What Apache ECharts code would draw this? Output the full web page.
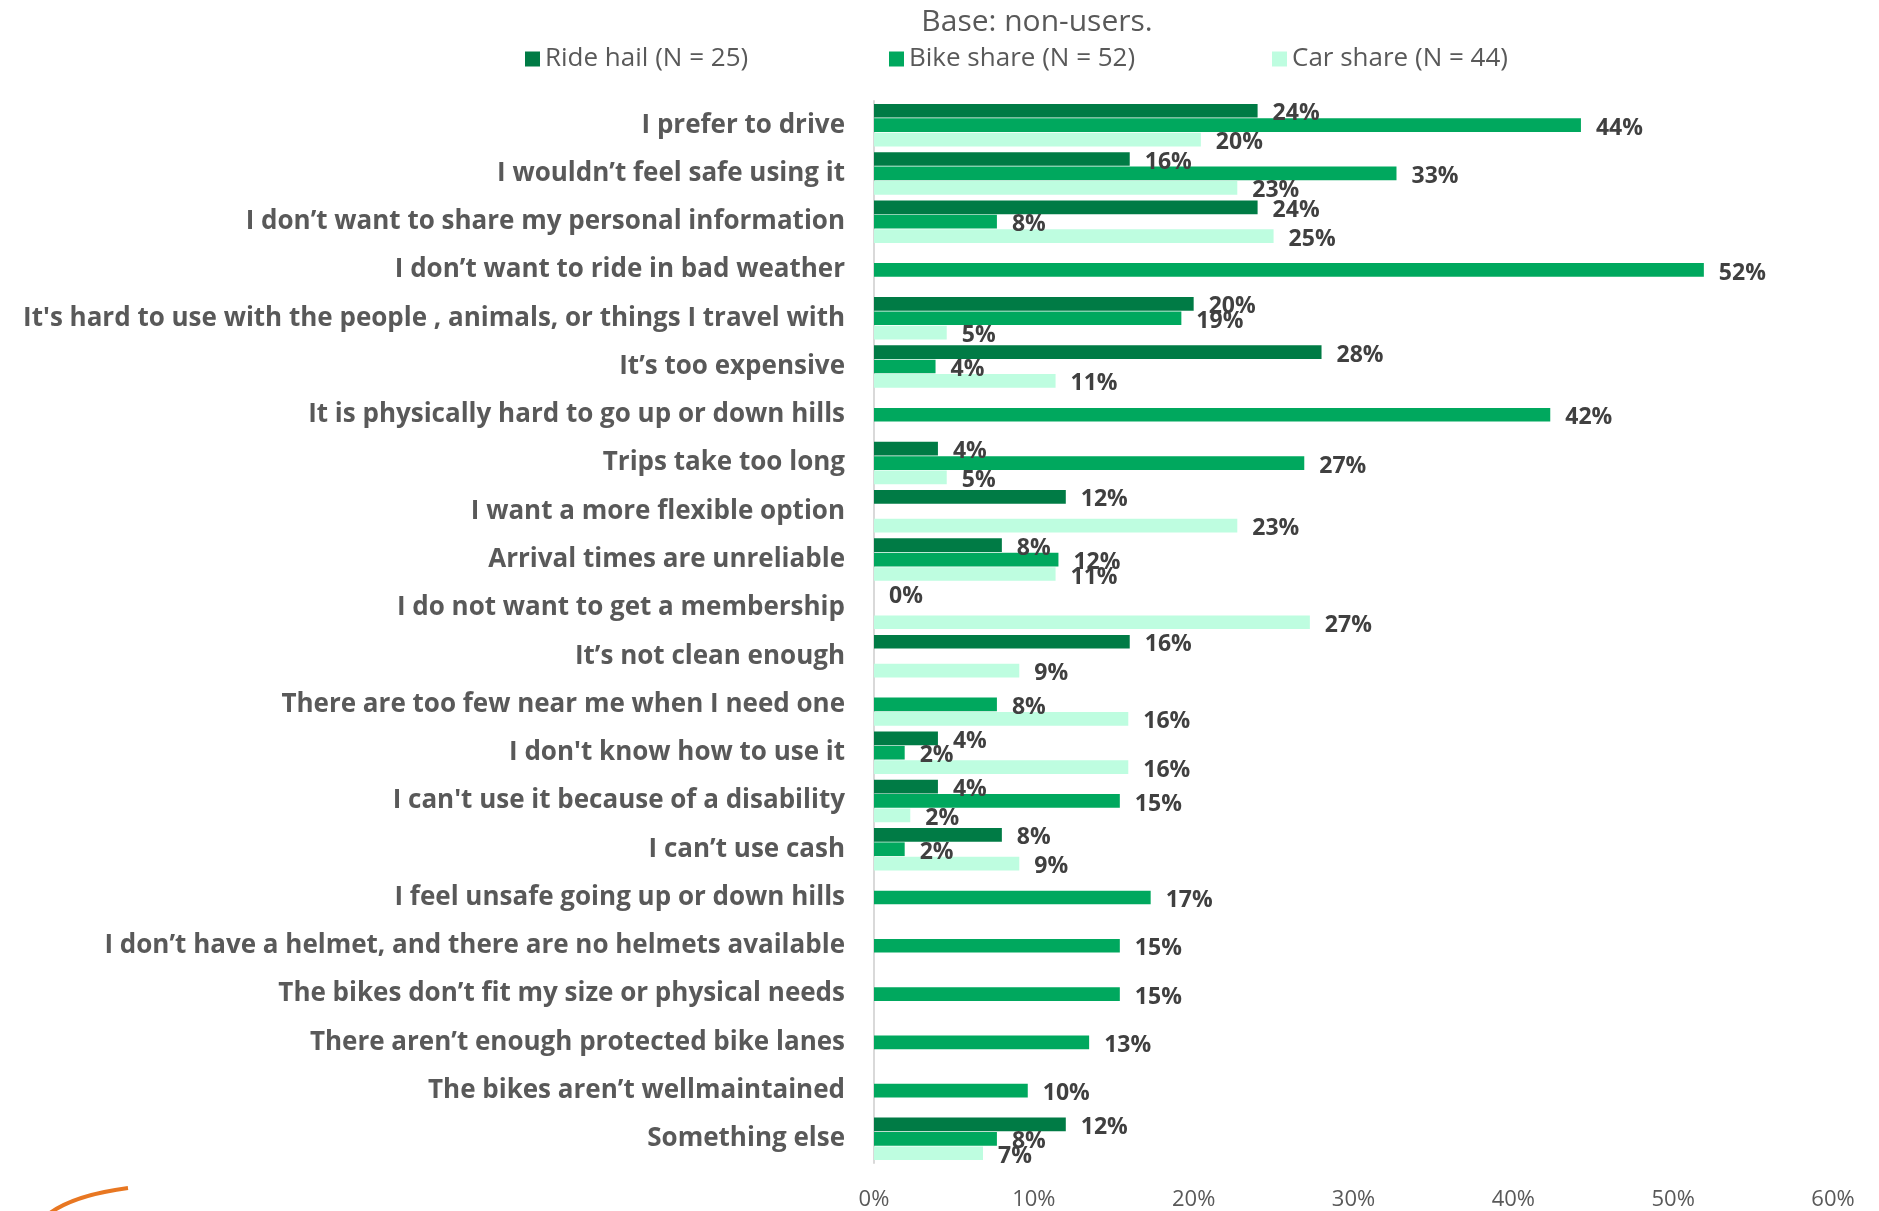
<!DOCTYPE html>
<html><head><meta charset="utf-8">
<script src="https://cdn.jsdelivr.net/npm/echarts@6/dist/echarts.min.js"></script>
<style>html,body{margin:0;padding:0;background:#fff}#c{width:1879px;height:1211px}</style>
</head><body><div id="c"></div>
<script>
const categories = [
  "I prefer to drive",
  "I wouldn’t feel safe using it",
  "I don’t want to share my personal information",
  "I don’t want to ride in bad weather",
  "It's hard to use with the people , animals, or things I travel with",
  "It’s too expensive",
  "It is physically hard to go up or down hills",
  "Trips take too long",
  "I want a more flexible option",
  "Arrival times are unreliable",
  "I do not want to get a membership",
  "It’s not clean enough",
  "There are too few near me when I need one",
  "I don't know how to use it",
  "I can't use it because of a disability",
  "I can’t use cash",
  "I feel unsafe going up or down hills",
  "I don’t have a helmet, and there are no helmets available",
  "The bikes don’t fit my size or physical needs",
  "There aren’t enough protected bike lanes",
  "The bikes aren’t wellmaintained",
  "Something else"
];
const rideHail  = [24, 16, 24, null, 20, 28, null, 4, 12, 8, 0, 16, null, 4, 4, 8, null, null, null, null, null, 12];
const bikeShare = [44.23, 32.69, 7.69, 51.92, 19.23, 3.85, 42.31, 26.92, null, 11.54, null, null, 7.69, 1.92, 15.38, 1.92, 17.31, 15.38, 15.38, 13.46, 9.62, 7.69];
const carShare  = [20.45, 22.73, 25, null, 4.55, 11.36, null, 4.55, 22.73, 11.36, 27.27, 9.09, 15.91, 15.91, 2.27, 9.09, null, null, null, null, null, 6.82];
const seriesNames = ["Ride hail (N = 25)", "Bike share (N = 52)", "Car share (N = 44)"];
const colors = ["#007B45", "#00A85E", "#BEFDE0"];
const xTicks = [0, 10, 20, 30, 40, 50, 60];
const titleText = "Base: non-users.";

const FONT = "Open Sans";
const chart = echarts.init(document.getElementById('c'), null, {renderer: 'canvas'});
const dataSets = [rideHail, bikeShare, carShare];
const legendLefts = [520, 884, 1267];

chart.setOption({
  animation: false,
  title: {text: titleText, left: 1032, top: 2, textAlign: 'center',
    textStyle: {fontFamily: FONT, fontSize: 30, fontWeight: 'normal', color: '#595959'}},
  legend: seriesNames.map((n, i) => ({
    data: [n], left: legendLefts[i], top: 41, itemWidth: 15, itemHeight: 15, icon: 'rect',
    textStyle: {fontFamily: FONT, fontSize: 26, color: '#595959'}
  })),
  grid: {left: 874, right: 46, top: 101, height: 1062, containLabel: false},
  xAxis: {
    type: 'value', min: xTicks[0], max: xTicks[xTicks.length - 1], interval: 10,
    axisLine: {show: false}, axisTick: {show: false}, splitLine: {show: false},
    axisLabel: {formatter: v => v + '%', fontFamily: FONT, fontSize: 22, color: '#595959', margin: 26}
  },
  yAxis: {
    type: 'category', data: categories, inverse: true,
    axisLine: {show: true, lineStyle: {color: '#D9D9D9', width: 2}},
    axisTick: {show: false},
    axisLabel: {fontFamily: FONT, fontSize: 26, fontWeight: 'bold', color: '#595959', margin: 29}
  },
  series: seriesNames.map((n, i) => ({
    name: n, type: 'bar', data: dataSets[i],
    barGap: '5%', barCategoryGap: '12%',
    itemStyle: {color: colors[i]},
    label: {show: true, position: 'right', distance: 15, offset: [0, 3],
      formatter: p => (p.value === null || p.value === undefined) ? '' : Math.round(p.value) + '%',
      fontFamily: FONT, fontSize: 23, fontWeight: 'bold', color: '#404040'}
  })),
  graphic: [{
    type: 'bezierCurve',
    shape: {x1: 50, y1: 1213, cpx1: 75, cpy1: 1195, x2: 128, y2: 1188},
    style: {stroke: '#E87722', lineWidth: 4, fill: null}
  }]
});
</script>
</body></html>
